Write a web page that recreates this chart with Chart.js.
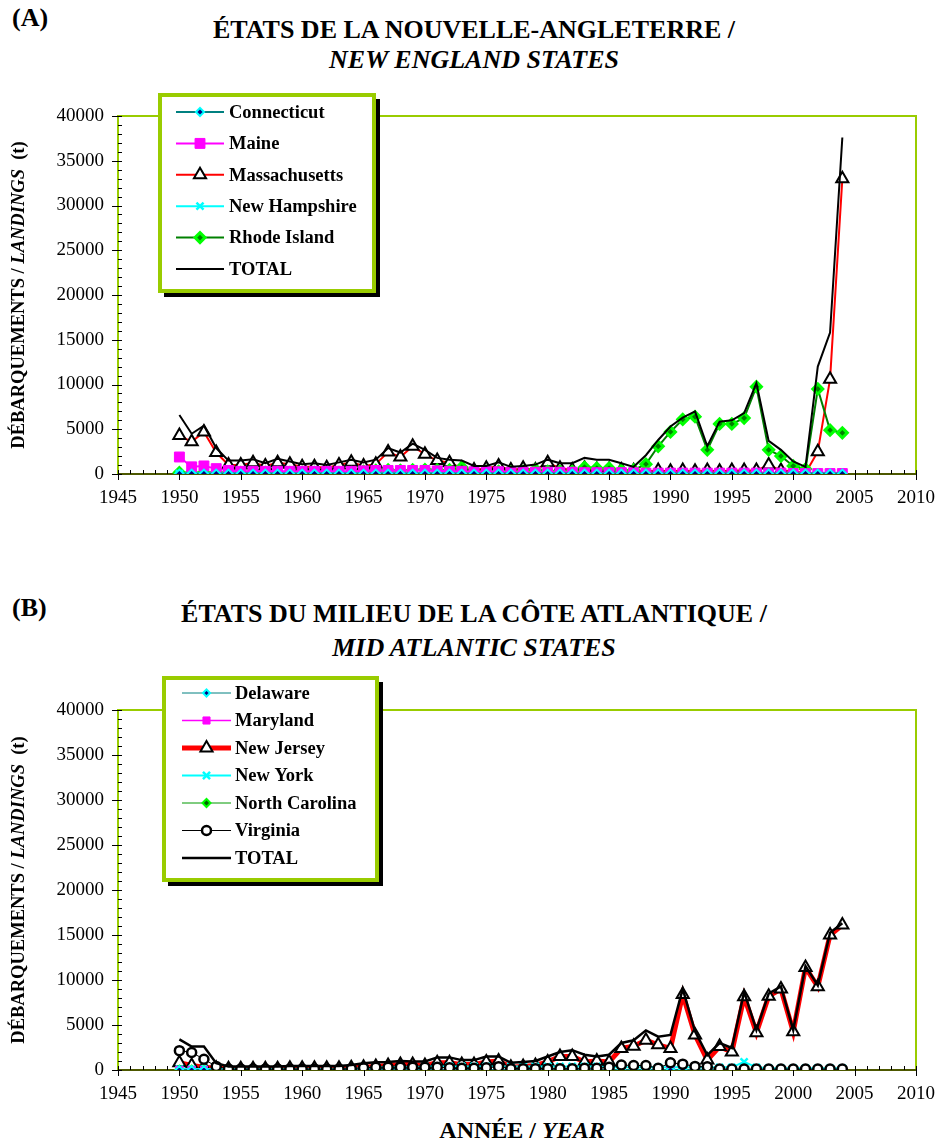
<!DOCTYPE html>
<html>
<head>
<meta charset="utf-8">
<script src="https://cdn.jsdelivr.net/npm/chart.js@4"></script>
<style>
  body { margin: 0; background: #fff; }
  #page { position: relative; width: 948px; height: 1146px; font-family: 'Liberation Serif', 'Times New Roman', serif; color: #000; }
  .tag { position: absolute; left: 12px; font-weight: bold; font-size: 26px; line-height: 30px; }
  .title { position: absolute; left: 0; width: 948px; text-align: center; font-weight: bold; font-size: 26px; }
  .ytitle { position: absolute; width: 420px; height: 22px; line-height: 22px; text-align: center; font-weight: bold; font-size: 18.5px; transform: rotate(-90deg); white-space: nowrap; }
  .xtitle { position: absolute; left: 322px; width: 400px; text-align: center; font-weight: bold; font-size: 24px; line-height: 28px; }
  canvas { position: absolute; left: 0; }
</style>
</head>
<body>
<div id="page">
  <div class="tag" style="top:3px">(A)</div>
  <div class="title" style="top:15px; line-height:30px">ÉTATS DE LA NOUVELLE-ANGLETERRE /<br><i>NEW ENGLAND STATES</i></div>
  <canvas id="chartA" width="948" height="440" style="top:80px"></canvas>
  <div class="ytitle" style="left:-192px; top:284px">DÉBARQUEMENTS / <i>LANDINGS</i>&nbsp; (t)</div>

  <div class="tag" style="top:593px">(B)</div>
  <div class="title" style="top:597px; line-height:34px">ÉTATS DU MILIEU DE LA CÔTE ATLANTIQUE /<br><i>MID ATLANTIC STATES</i></div>
  <canvas id="chartB" width="948" height="450" style="top:664px"></canvas>
  <div class="ytitle" style="left:-192px; top:879px">DÉBARQUEMENTS / <i>LANDINGS</i>&nbsp; (t)</div>
  <div class="xtitle" style="top:1116px">ANNÉE / <i>YEAR</i></div>
</div>

<script>
// landings in tonnes, one value per year 1950-2004
const years = [1950,1951,1952,1953,1954,1955,1956,1957,1958,1959,
               1960,1961,1962,1963,1964,1965,1966,1967,1968,1969,
               1970,1971,1972,1973,1974,1975,1976,1977,1978,1979,
               1980,1981,1982,1983,1984,1985,1986,1987,1988,1989,
               1990,1991,1992,1993,1994,1995,1996,1997,1998,1999,
               2000,2001,2002,2003,2004];

// (A) New England
const connecticut = [50,50,50,50,50,50,50,50,50,50, 50,50,50,50,50,50,50,50,50,50,
                     50,50,50,50,50,50,50,50,50,50, 50,50,50,50,50,50,50,50,50,50,
                     50,50,50,50,50,50,50,50,50,50, 50,50,50,50,50];
const maine = [1900,800,900,600,400,300,300,300,300,300, 300,300,300,300,300,350,400,400,400,400,
               400,350,300,300,250,250,250,200,200,200, 200,200,200,150,150,150,150,150,100,100,
               100,100,100,100,100,100,100,100,100,100, 50,50,50,50,50];
const massachusetts = [4300,3600,4700,2400,1000,1000,1250,900,1250,1100, 800,800,700,1000,1300,900,1100,2450,1900,3100,
                       2200,1500,1250,650,450,650,900,450,650,450, 1250,650,450,650,500,500,450,350,300,400,
                       300,400,300,400,300,400,400,400,1000,400, 300,100,2500,10600,33000];
const newHampshire = [50,100,100,100,100,100,100,100,100,100, 100,100,100,100,100,100,100,100,100,100,
                      100,100,100,100,100,100,100,100,100,100, 100,100,100,100,100,100,100,100,150,150,
                      150,150,150,150,150,150,150,150,150,150, 150,150,150,150,150];
const rhodeIsland = [150,150,150,150,150,150,150,150,150,150, 150,150,150,150,150,300,400,450,400,450,
                     500,450,450,750,200,300,300,200,300,500, 300,300,300,750,650,650,400,450,1100,3100,
                     4700,6100,6400,2700,5600,5600,6250,9750,2700,2000, 900,550,9500,4900,4600];
const totalA = [6600,4500,5400,2900,1500,1500,1650,1200,1700,1400, 1100,1200,1000,1300,1600,1300,1600,2900,2400,3400,
                2700,1800,1600,1500,900,900,1300,800,900,1050, 1600,1200,1200,1800,1600,1600,1200,800,2100,3800,
                5300,6300,7000,3100,5850,6000,6800,10150,3700,2700, 1400,800,12000,15800,37600];

// (B) Mid Atlantic
const delaware = [50,50,50,50,50,50,50,50,50,50, 50,50,50,50,50,50,50,50,50,50,
                  50,50,50,50,50,50,50,50,50,50, 50,50,50,50,50,50,50,50,50,50,
                  50,50,50,50,50,50,50,50,50,50, 50,50,50,50,50];
const maryland = [0,0,0,0,0,0,0,0,0,0, 0,0,0,0,0,0,0,0,0,0,
                  0,0,0,0,0,0,0,0,0,0, 0,0,0,0,0,0,0,0,0,0,
                  0,0,0,0,0,0,0,0,0,0, 0,0,0,0,0];
const newJersey = [800,500,300,200,150,150,150,150,150,200, 200,200,200,200,250,300,400,500,600,600,
                   500,800,800,600,600,900,1000,300,400,500, 900,1500,1500,900,1000,900,2400,2650,3300,2800,
                   2400,8400,3900,1100,2600,2000,8150,4150,8200,9000, 4250,11400,9250,15000,16100];
const newYork = [100,100,100,100,100,100,100,100,100,100, 100,100,100,100,150,200,300,300,300,300,
                 400,400,400,400,400,400,400,400,400,400, 400,400,400,400,400,300,300,300,300,300,
                 300,300,300,300,300,300,900,300,200,200, 200,200,200,200,200];
const northCarolina = [50,50,50,50,50,50,50,50,50,50, 50,50,50,50,50,50,50,50,50,50,
                       50,50,50,50,50,50,50,50,50,50, 50,50,50,50,50,50,50,50,50,50,
                       50,50,50,50,50,50,50,50,50,50, 50,50,50,50,50];
const virginia = [2150,1950,1200,400,100,100,100,100,100,100, 100,100,100,100,150,250,300,300,300,300,
                  300,300,250,200,200,250,370,150,150,150, 150,150,150,200,200,300,550,500,500,200,
                  800,650,400,350,100,100,100,100,100,100, 100,100,100,100,100];
const totalB = [3400,2600,2600,750,400,400,400,400,400,450, 450,450,450,450,550,750,850,900,1000,950,
                950,1400,1400,1100,1100,1500,1500,800,900,1000, 1500,2000,2200,1700,1500,1700,3000,3300,4400,3700,
                3900,9000,4300,1650,3000,2450,8700,4450,8500,9300, 4450,11550,9400,15250,16300];

const FONT = "'Liberation Serif', 'Times New Roman', serif";

function series(label, values, color, width, style, radius, fill, edge, edgeWidth, order) {
  return {
    label: label,
    data: years.map((yr, i) => ({ x: yr, y: values[i] })),
    borderColor: color,
    borderWidth: width,
    pointStyle: style,
    pointRadius: radius,
    pointBackgroundColor: fill,
    pointBorderColor: edge,
    pointBorderWidth: edgeWidth,
    order: order || 0,
    tension: 0
  };
}

// plot frame, axis lines and the major/minor tick marks
const frame = {
  id: 'frame',
  beforeDatasetsDraw(chart) {
    const { ctx, chartArea: a, scales: { x, y } } = chart;
    ctx.save();
    ctx.lineWidth = 2;
    ctx.strokeStyle = '#99cc00';
    ctx.beginPath();
    ctx.moveTo(a.left, a.bottom);
    ctx.lineTo(a.left, a.top);
    ctx.lineTo(a.right, a.top);
    ctx.lineTo(a.right, a.bottom);
    ctx.stroke();
    ctx.strokeStyle = '#4d5800';
    ctx.beginPath();
    ctx.moveTo(a.left, a.bottom);
    ctx.lineTo(a.right, a.bottom);
    ctx.stroke();

    ctx.lineWidth = 1;
    ctx.strokeStyle = '#000';
    ctx.beginPath();
    for (let v = y.min; v <= y.max; v += 1000) {
      const py = Math.round(y.getPixelForValue(v)) + 0.5;
      ctx.moveTo(a.left - (v % 5000 === 0 ? 6 : 0), py);
      ctx.lineTo(a.left + 4, py);
    }
    for (let yr = x.min; yr <= x.max; yr++) {
      const px = Math.round(x.getPixelForValue(yr)) + 0.5;
      ctx.moveTo(px, a.bottom - 4);
      ctx.lineTo(px, a.bottom + (yr % 5 === 0 ? 6 : 0));
    }
    ctx.stroke();
    ctx.restore();
  }
};

// boxed legend with drop shadow, sitting over the top-left of the plot
const boxLegend = {
  id: 'boxLegend',
  afterDraw(chart, args, o) {
    const { ctx, chartArea: a } = chart;
    const x0 = a.left + o.dx, y0 = a.top + o.dy;
    ctx.save();
    ctx.fillStyle = '#000';
    ctx.fillRect(x0 + 4, y0 + 4, o.width + 2, o.height + 2);
    ctx.fillStyle = '#fff';
    ctx.fillRect(x0, y0, o.width, o.height);
    ctx.lineWidth = 4;
    ctx.strokeStyle = '#99cc00';
    ctx.strokeRect(x0, y0, o.width, o.height);

    ctx.font = 'bold 18.5px ' + FONT;
    ctx.textBaseline = 'middle';
    chart.data.datasets.forEach((ds, i) => {
      const ly = y0 + o.first + i * o.step;
      ctx.strokeStyle = ds.borderColor;
      ctx.lineWidth = ds.borderWidth;
      ctx.beginPath();
      ctx.moveTo(x0 + o.lineFrom, ly);
      ctx.lineTo(x0 + o.lineTo, ly);
      ctx.stroke();
      if (ds.pointRadius > 0) {
        ctx.fillStyle = ds.pointBackgroundColor;
        ctx.strokeStyle = ds.pointBorderColor;
        ctx.lineWidth = ds.pointBorderWidth;
        Chart.helpers.drawPoint(ctx, {
          pointStyle: ds.pointStyle, rotation: 0,
          radius: ds.pointRadius, borderWidth: ds.pointBorderWidth
        }, x0 + (o.lineFrom + o.lineTo) / 2, ly);
      }
      ctx.fillStyle = '#000';
      ctx.fillText(ds.label, x0 + o.text, ly + 1);
    });
    ctx.restore();
  }
};

function makeChart(id, datasets, legendOpts, padTop, xAxisHeight) {
  return new Chart(document.getElementById(id), {
    type: 'line',
    data: { datasets: datasets },
    options: {
      responsive: false,
      animation: false,
      devicePixelRatio: 1,
      layout: { padding: { top: padTop, right: 21, left: 0, bottom: 0 } },
      plugins: {
        legend: { display: false },
        tooltip: { enabled: false },
        boxLegend: legendOpts
      },
      scales: {
        x: {
          type: 'linear', min: 1945, max: 2010,
          grid: { display: false, drawTicks: false },
          border: { display: false },
          ticks: { stepSize: 5, padding: 13, color: '#000', font: { family: FONT, size: 19 },
                   callback: v => String(v) },
          afterFit: s => { s.height = xAxisHeight; }
        },
        y: {
          min: 0, max: 40000,
          grid: { display: false, drawTicks: false },
          border: { display: false },
          ticks: { stepSize: 5000, padding: 14, color: '#000', font: { family: FONT, size: 19 },
                   callback: v => String(v) },
          afterFit: s => { s.width = 118; }
        }
      }
    },
    plugins: [frame, boxLegend]
  });
}

// lower order draws on top: totals over everything, the big state series underneath
makeChart('chartA', [
  series('Connecticut', connecticut, '#008080', 2, 'rectRot', 4, '#000080', '#00ffff', 2),
  series('Maine', maine, '#ff00ff', 2, 'rect', 7, '#ff00ff', '#ff00ff', 1),
  series('Massachusetts', massachusetts, '#ff0000', 2, 'triangle', 7, '#fff', '#000', 2, 1),
  series('New Hampshire', newHampshire, '#00ffff', 2, 'crossRot', 5, '#00ffff', '#00ffff', 2.5),
  series('Rhode Island', rhodeIsland, '#008000', 2, 'rectRot', 5, '#008000', '#00ff00', 3),
  series('TOTAL', totalA, '#000', 2, 'circle', 0, '#000', '#000', 0, -2)
], { dx: 42, dy: -21, width: 214, height: 196, first: 17, step: 31.4, lineFrom: 16, lineTo: 64, text: 69 }, 36, 46);

makeChart('chartB', [
  series('Delaware', delaware, '#008080', 1, 'rectRot', 3.5, '#000080', '#00ffff', 2),
  series('Maryland', maryland, '#ff00ff', 1.5, 'rect', 5, '#ff00ff', '#ff00ff', 1),
  series('New Jersey', newJersey, '#ff0000', 5, 'triangle', 7, '#fff', '#000', 2, 1),
  series('New York', newYork, '#00ffff', 2, 'crossRot', 5, '#00ffff', '#00ffff', 2.5),
  series('North Carolina', northCarolina, '#009900', 1, 'rectRot', 4, '#006600', '#00ff00', 2),
  series('Virginia', virginia, '#000', 1, 'circle', 4.5, '#fff', '#000', 2.5, -1),
  series('TOTAL', totalB, '#000', 2.5, 'circle', 0, '#000', '#000', 0, -2)
], { dx: 46, dy: -32, width: 213, height: 202, first: 15, step: 27.5, lineFrom: 18, lineTo: 67, text: 71 }, 46, 44);
</script>
</body>
</html>
